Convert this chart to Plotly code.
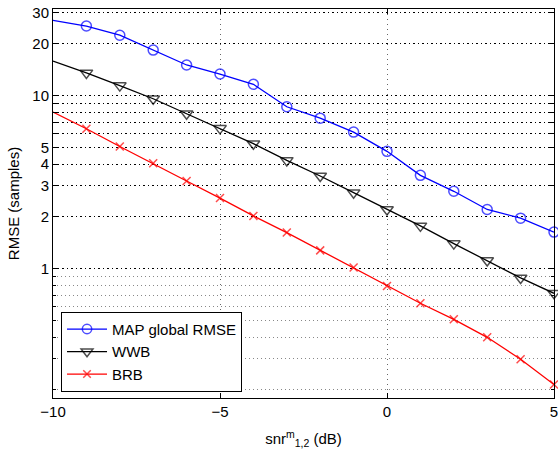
import plotly.graph_objects as go

snr = [-10, -9, -8, -7, -6, -5, -4, -3, -2, -1, 0, 1, 2, 3, 4, 5]
map_rmse = [27.2, 25.2, 22.3, 18.3, 15.0, 13.3, 11.6, 8.6, 7.39, 6.14, 4.75, 3.45, 2.79, 2.19, 1.95, 1.62]
wwb = [15.8, 13.5, 11.4, 9.57, 7.84, 6.45, 5.26, 4.21, 3.42, 2.74, 2.19, 1.76, 1.39, 1.11, 0.88, 0.717]
brb = [8.01, 6.42, 5.07, 4.05, 3.20, 2.55, 2.01, 1.61, 1.27, 1.01, 0.79, 0.628, 0.507, 0.399, 0.298, 0.213]

series_names = ["MAP global RMSE", "WWB", "BRB"]

y_major_vals = [1, 2, 3, 4, 5, 6, 7, 8, 9, 10, 20, 30]
y_major_text = ["1", "2", "3", "4", "5", "", "", "", "", "10", "20", "30"]
y_minor_vals = [0.2, 0.3, 0.4, 0.5, 0.6, 0.7, 0.8, 0.9]
x_tick_vals = [-10, -5, 0, 5]
x_tick_text = ["\u221210", "\u22125", "0", "5"]

FONT = "Liberation Sans, Arial, Helvetica, sans-serif"

fig = go.Figure()
styles = [
    dict(color="#0000ff", symbol="circle-open", size=10),
    dict(color="#000000", symbol="triangle-down-open", size=11),
    dict(color="#ff0000", symbol="x-thin-open", size=8),
]
for name, ys, st in zip(series_names, [map_rmse, wwb, brb], styles):
    sz = [st["size"]] * len(snr)
    sz[0] = 0
    fig.add_trace(go.Scatter(
        x=snr, y=ys, name=name, mode="lines+markers", cliponaxis=False,
        line=dict(color=st["color"], width=1.3),
        marker=dict(symbol=st["symbol"], size=sz, color=st["color"],
                    line=dict(color=st["color"], width=1.5)),
    ))

fig.update_layout(
    width=558, height=449,
    margin=dict(l=53, r=4, t=9, b=51),
    paper_bgcolor="white", plot_bgcolor="white",
    font=dict(family=FONT, size=15, color="black"),
    showlegend=True,
    legend=dict(x=0.016, y=0.016, xanchor="left", yanchor="bottom",
                bgcolor="white", bordercolor="black", borderwidth=1,
                font=dict(size=15), tracegroupgap=0, itemwidth=40),
)
fig.update_xaxes(
    range=[-10, 5], tickmode="array", tickvals=x_tick_vals, ticktext=x_tick_text,
    showline=True, linecolor="black", linewidth=1, mirror="ticks",
    ticks="inside", ticklen=5, tickcolor="black", automargin=False,
    ticklabeloverflow="allow",
    showgrid=True, gridcolor="#666666", griddash="1px,4px", gridwidth=1,
    zeroline=False,
    title=dict(text="snr<sup>m</sup><sub>1,2</sub> (dB)", standoff=14, font=dict(size=15)),
)
fig.update_yaxes(
    type="log", range=[-0.75, 1.5],
    tickmode="array", tickvals=y_major_vals, ticktext=y_major_text,
    showline=True, linecolor="black", linewidth=1, mirror="ticks",
    ticks="inside", ticklen=5, tickcolor="black", automargin=False,
    ticklabeloverflow="allow",
    showgrid=True, gridcolor="#000000", griddash="1.5px,3px", gridwidth=1,
    minor=dict(tickmode="array", tickvals=y_minor_vals, showgrid=True,
               gridcolor="#888888", griddash="1px,3px", gridwidth=1,
               ticks="inside", ticklen=3, tickcolor="black"),
    zeroline=False,
    title=dict(text="RMSE (samples)", standoff=9, font=dict(size=15)),
)

fig.write_html(
    "out.html",
    config={"displayModeBar": False},
    post_script="document.body.style.margin='0';document.body.style.overflow='hidden';",
)
